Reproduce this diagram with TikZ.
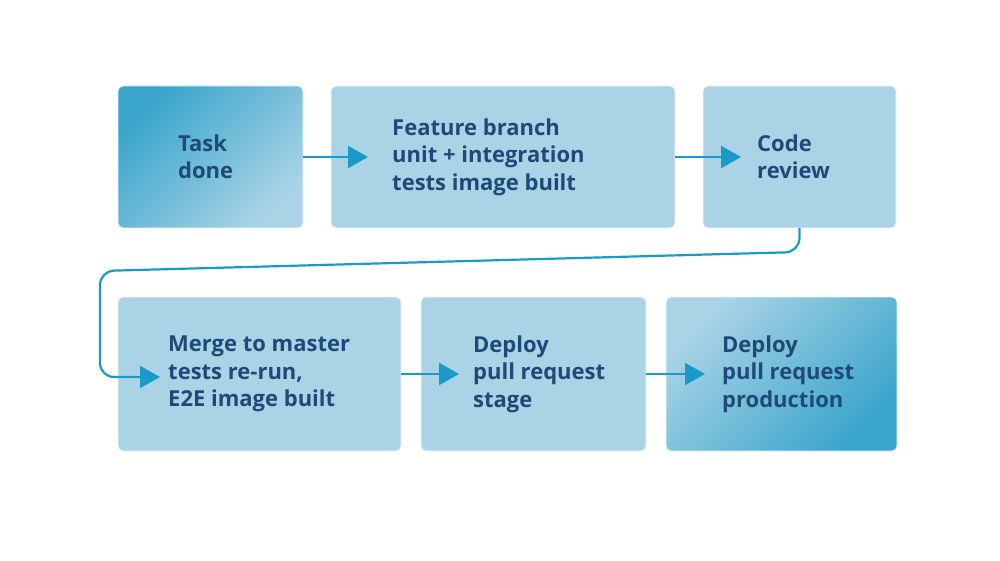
\documentclass[tikz,border=0pt]{standalone}
\usepackage{fontspec}
\setmainfont{Open Sans}
\usetikzlibrary{arrows.meta}
\definecolor{boxfill}{HTML}{AAD4E6}
\definecolor{boxdark}{HTML}{3AA5CB}
\definecolor{txt}{HTML}{1F4A78}
\definecolor{arr}{HTML}{1A9AC9}
\tikzset{
  box/.style={draw=white!80!boxfill, line width=0.8pt, rounded corners=5pt, fill=boxfill},
  lbl/.style={anchor=west, align=left, text=txt, font=\fontsize{22}{27.5}\selectfont\bfseries, inner sep=0pt},
  conn/.style={draw=arr, line width=2.2pt, -{Triangle[length=20pt,width=22pt]}},
}
\begin{document}
\begin{tikzpicture}[x=1pt,y=-1pt]
\useasboundingbox (0,0) rectangle (1000,561);
% boxes
\path[box, left color=boxdark, right color=boxfill, shading angle=45] (118,86) rectangle (303,228);
\node[inner sep=0pt] (b1) at (210.5,157) [minimum width=185pt, minimum height=142pt] {};
\path[box] (331,86) rectangle (675,228);
\node[inner sep=0pt] (b2) at (503,157) [minimum width=344pt, minimum height=142pt] {};
\path[box] (703,86) rectangle (896,228);
\node[inner sep=0pt] (b3) at (799.5,157) [minimum width=193pt, minimum height=142pt] {};
\path[box] (118,297) rectangle (401,451);
\node[inner sep=0pt] (b4) at (259.5,374) [minimum width=283pt, minimum height=154pt] {};
\path[box] (421,297) rectangle (646,451);
\node[inner sep=0pt] (b5) at (533.5,374) [minimum width=225pt, minimum height=154pt] {};
\path[box, left color=boxfill, right color=boxdark, shading angle=45] (666,297) rectangle (897,451);
\node[inner sep=0pt] (b6) at (781.5,374) [minimum width=231pt, minimum height=154pt] {};
% labels
\node[lbl] (t1) at (178,157) {Task\\done};
\node[lbl] (t2) at (392,157) {Feature branch\\unit + integration\\tests image built};
\node[lbl] (t3) at (757,157) {Code\\review};
\node[lbl] (t4) at (168,374) {Merge to master\\tests re-run,\\E2E image built};
\node[lbl] (t5) at (473,374) {Deploy\\pull request\\stage};
\node[lbl] (t6) at (722,374) {Deploy\\pull request\\production};
% connectors
\coordinate (e1) at (368,157);
\coordinate (e2) at (741,157);
\coordinate (e4) at (160,377);
\coordinate (e5) at (459,374);
\coordinate (e6) at (705,374);
\draw[conn] (b1.east) -- (e1);
\draw[conn] (b2.east) -- (e2);
\draw[conn] (b4.east) -- (e5);
\draw[conn] (b5.east) -- (e6);
\draw[conn, rounded corners=14pt] (b3.south) -- (799.5,252) -- (100,271) -- (100,377) -- (e4);
\end{tikzpicture}
\end{document}
